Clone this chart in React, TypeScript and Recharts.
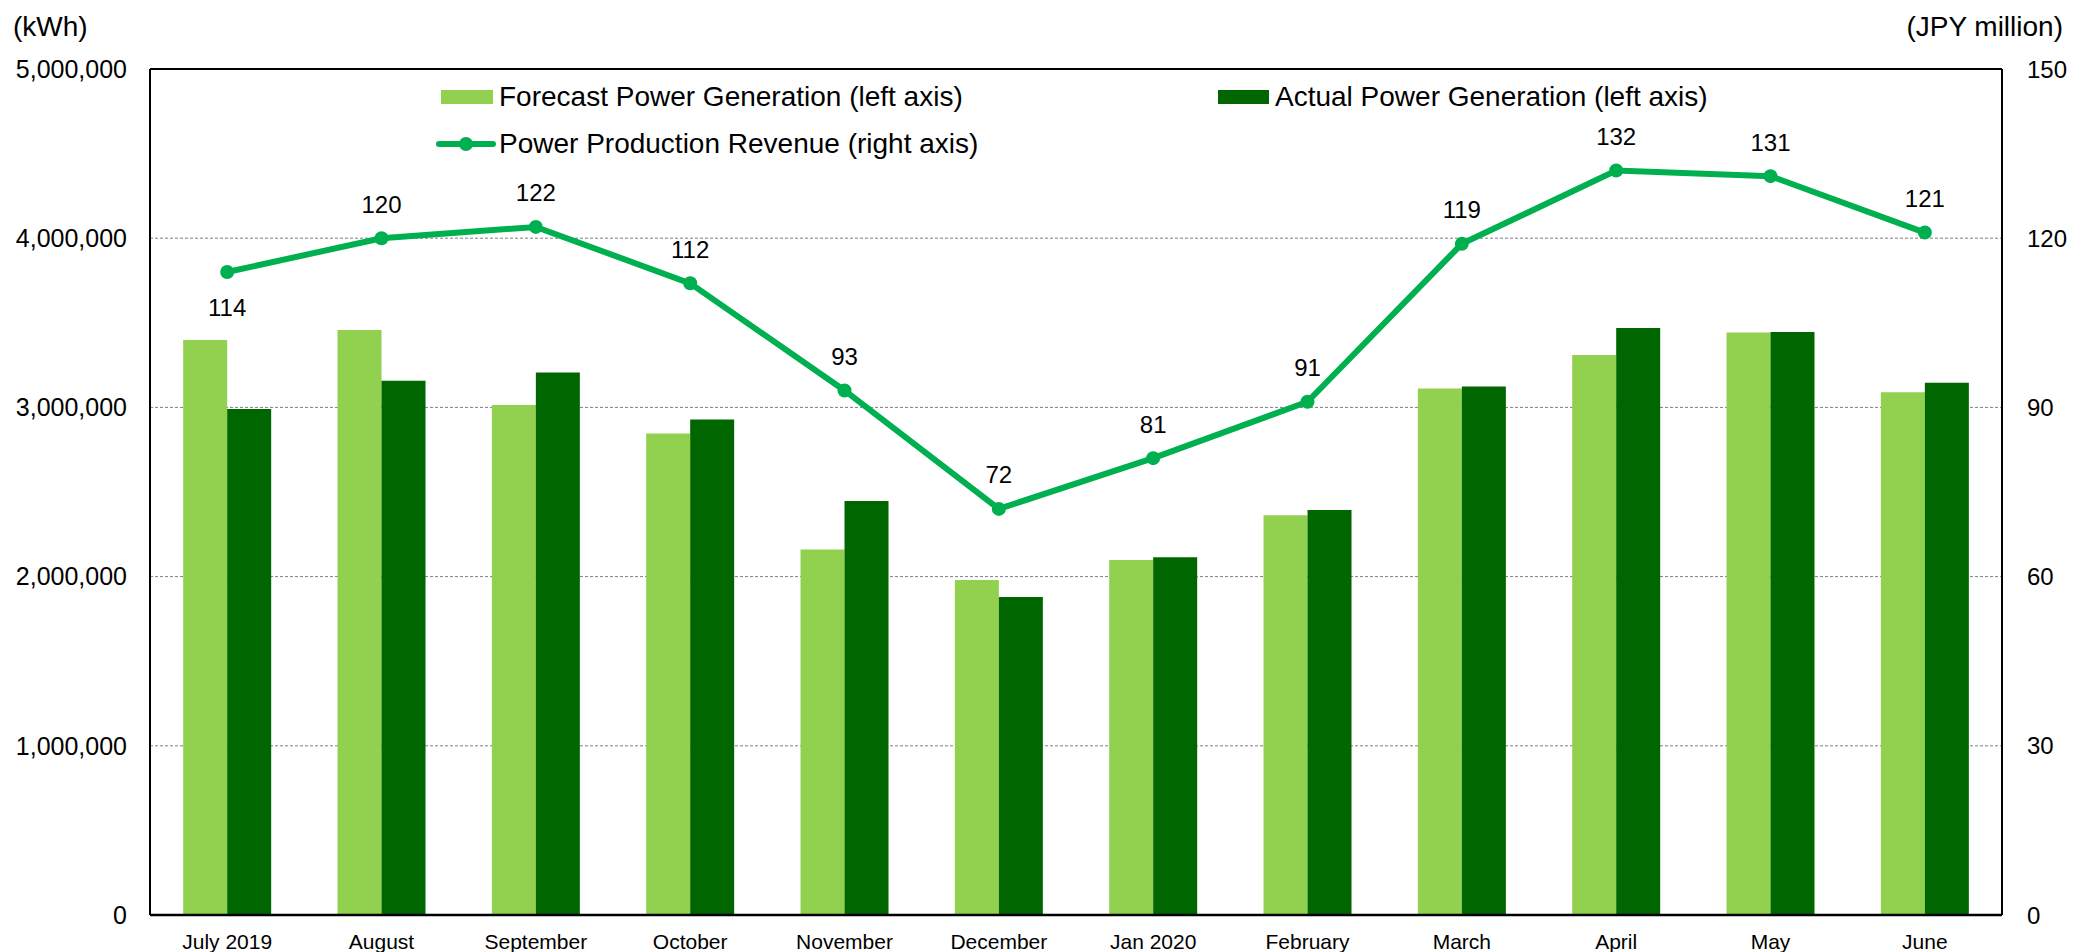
import React from 'react';
import { ComposedChart, Bar, Line, XAxis, YAxis, CartesianGrid, ReferenceLine } from 'recharts';

const categories = ['July 2019', 'August', 'September', 'October', 'November', 'December', 'Jan 2020', 'February', 'March', 'April', 'May', 'June'];
const forecastGeneration = [3398000, 3458000, 3014000, 2846000, 2160000, 1980000, 2098000, 2362000, 3112000, 3310000, 3443000, 3089000];
const actualGeneration = [2990000, 3158000, 3207000, 2929000, 2447000, 1880000, 2114000, 2394000, 3124000, 3469000, 3445000, 3146000];
const revenue = [114, 120, 122, 112, 93, 72, 81, 91, 119, 132, 131, 121];
const leftTicks = [0, 1000000, 2000000, 3000000, 4000000, 5000000];
const rightTicks = [0, 30, 60, 90, 120, 150];

const seriesNames = {
  forecast: 'Forecast Power Generation (left axis)',
  actual: 'Actual Power Generation (left axis)',
  revenue: 'Power Production Revenue (right axis)',
};

const data = categories.map((name, i) => ({
  name,
  forecast: forecastGeneration[i],
  actual: actualGeneration[i],
  revenue: revenue[i],
}));

const FONT = '"Liberation Sans", Arial, sans-serif';
const LIGHT = '#92D050';
const DARK = '#006600';
const LINE = '#00B050';

const RevenueLabel = (props: any) => {
  const { x, y, value, index } = props;
  const below = index === 0;
  return (
    <text
      x={x}
      y={below ? y + 35 : y - 34}
      textAnchor="middle"
      dominantBaseline="central"
      fontFamily={FONT}
      fontSize={24}
      fill="#000"
    >
      {value}
    </text>
  );
};

export default function App() {
  return (
    <div style={{ position: 'relative', width: 2066, height: 944, fontFamily: FONT }}>
      <div style={{ position: 'absolute', left: 5, top: 3, fontSize: 28, lineHeight: '32px', color: '#000' }}>(kWh)</div>
      <div style={{ position: 'absolute', right: 11, top: 3, fontSize: 28, lineHeight: '32px', color: '#000', textAlign: 'right' }}>(JPY million)</div>
      <ComposedChart
        width={2066}
        height={944}
        data={data}
        margin={{ top: 61, right: 0, bottom: 0, left: 0 }}
        barCategoryGap="21.5%"
        barGap={0}
      >
        <CartesianGrid vertical={false} stroke="#7f7f7f" strokeDasharray="3 2" />
        <XAxis
          dataKey="name"
          height={37}
          tickLine={false}
          tickSize={0}
          tickMargin={19}
          axisLine={{ stroke: '#000', strokeWidth: 2.5 }}
          tick={{ fontFamily: FONT, fontSize: 21, fill: '#000' }}
          interval={0}
        />
        <YAxis
          width={142}
          domain={[0, 5000000]}
          ticks={leftTicks}
          tickLine={false}
          tickSize={0}
          tickMargin={23}
          axisLine={{ stroke: '#000', strokeWidth: 2 }}
          tick={{ fontFamily: FONT, fontSize: 25, fill: '#000' }}
          tickFormatter={(v: number) => v.toLocaleString('en-US')}
          interval={0}
        />
        <YAxis
          yAxisId="right"
          orientation="right"
          width={72}
          domain={[0, 150]}
          ticks={rightTicks}
          tickLine={false}
          tickSize={0}
          tickMargin={25}
          axisLine={{ stroke: '#000', strokeWidth: 2 }}
          tick={{ fontFamily: FONT, fontSize: 24, fill: '#000', textAnchor: 'start' }}
          interval={0}
        />
        <ReferenceLine y={5000000} stroke="#000" strokeWidth={2} ifOverflow="visible" />
        <Bar dataKey="forecast" name={seriesNames.forecast} fill={LIGHT} isAnimationActive={false} />
        <Bar dataKey="actual" name={seriesNames.actual} fill={DARK} isAnimationActive={false} />
        <Line
          yAxisId="right"
          dataKey="revenue"
          name={seriesNames.revenue}
          stroke={LINE}
          strokeWidth={6}
          dot={{ r: 7, fill: LINE, stroke: LINE, strokeWidth: 0 }}
          activeDot={false}
          isAnimationActive={false}
          label={<RevenueLabel />}
        />
      </ComposedChart>
      <div style={{ position: 'absolute', left: 0, top: 0, width: 2066, height: 200, pointerEvents: 'none', fontSize: 28, color: '#000' }}>
        <div style={{ position: 'absolute', left: 433, top: 82, width: 52, height: 14, background: LIGHT }} />
        <div style={{ position: 'absolute', left: 491, top: 89, transform: 'translateY(-50%)', lineHeight: '32px', whiteSpace: 'nowrap' }}>{seriesNames.forecast}</div>
        <div style={{ position: 'absolute', left: 1210, top: 82, width: 51, height: 14, background: DARK }} />
        <div style={{ position: 'absolute', left: 1267, top: 89, transform: 'translateY(-50%)', lineHeight: '32px', whiteSpace: 'nowrap' }}>{seriesNames.actual}</div>
        <svg style={{ position: 'absolute', left: 428, top: 126 }} width={60} height={20}>
          <line x1={3} y1={10} x2={57} y2={10} stroke={LINE} strokeWidth={6} strokeLinecap="round" />
          <circle cx={30} cy={10} r={7} fill={LINE} />
        </svg>
        <div style={{ position: 'absolute', left: 491, top: 136, transform: 'translateY(-50%)', lineHeight: '32px', whiteSpace: 'nowrap' }}>{seriesNames.revenue}</div>
      </div>
    </div>
  );
}
